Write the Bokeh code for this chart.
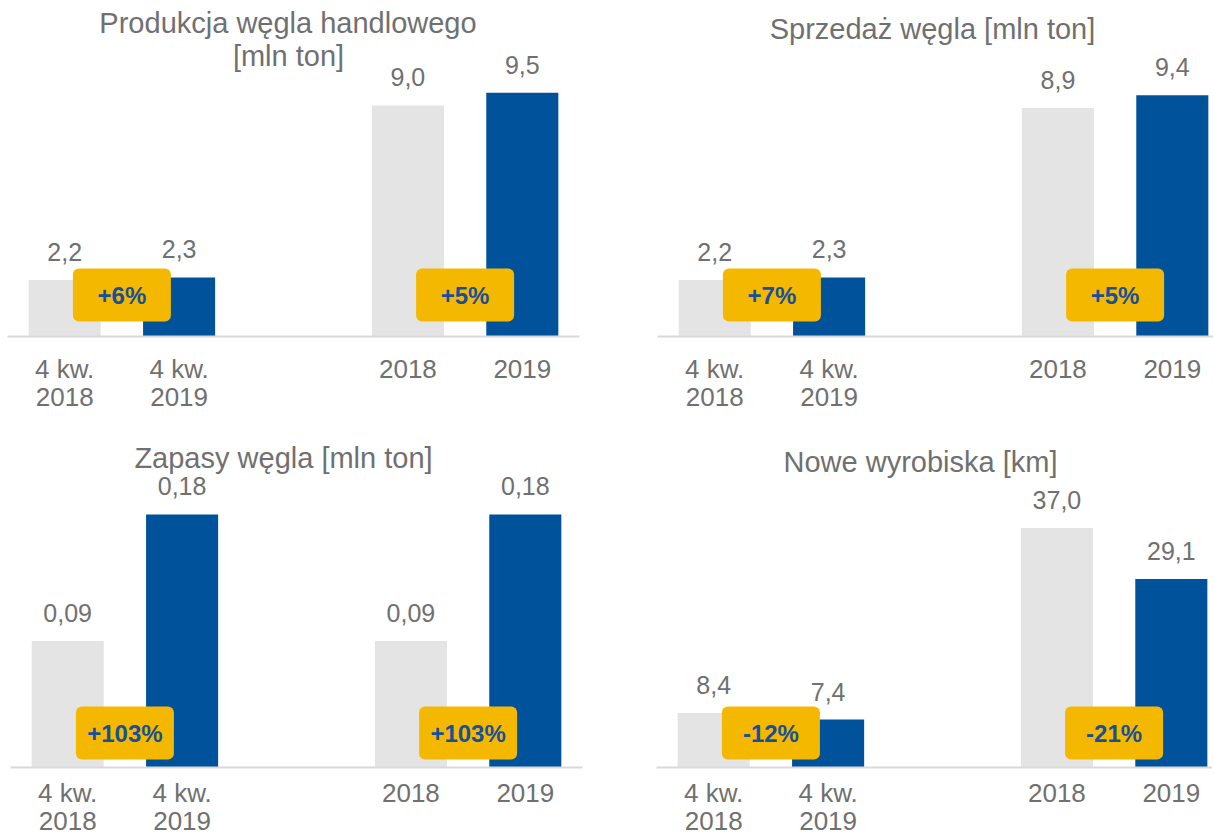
from bokeh.plotting import figure
from bokeh.layouts import column, row
from bokeh.models import Range1d, FixedTicker, Label, ColumnDataSource
from bokeh.core.properties import value
from bokeh.embed import file_html
from bokeh.resources import INLINE

# ---------------- data ----------------
categories = ["4 kw.\n2018", "4 kw.\n2019", "2018", "2019"]
production = [2.2, 2.3, 9.0, 9.5]
sales = [2.2, 2.3, 8.9, 9.4]
stocks = [0.09, 0.18, 0.09, 0.18]
excavations = [8.4, 7.4, 37.0, 29.1]
production_change = ["+6%", "+5%"]
sales_change = ["+7%", "+5%"]
stocks_change = ["+103%", "+103%"]
excavations_change = ["-12%", "-21%"]
title_production = ["Produkcja węgla handlowego", "[mln ton]"]
title_sales = ["Sprzedaż węgla [mln ton]"]
title_stocks = ["Zapasy węgla [mln ton]"]
title_excavations = ["Nowe wyrobiska [km]"]

# ---------------- style ----------------
FONT = "Liberation Sans"
GRAY_TXT = "#707070"
BAR_COLORS = ["#E4E4E4", "#00529B", "#E4E4E4", "#00529B"]
BADGE_FILL = "#F5B800"
BADGE_TXT = "#17509A"
AXIS_COL = "#D9D9D9"

# x slot positions: a gap slot between the quarter pair and the year pair
xs = [i + (1 if i >= 2 else 0) for i in range(len(categories))]
pairs = [(xs[0] + xs[1]) / 2, (xs[2] + xs[3]) / 2]


def panel(values, decimals, changes, title_lines, title_pos, y_end,
          frame_w, frame_h, border_left, border_right, x_end, standoff,
          badge_px):
    p = figure(frame_width=frame_w, frame_height=frame_h, title=None,
               x_range=Range1d(-0.5, x_end), y_range=Range1d(0, y_end),
               toolbar_location=None, output_backend="svg",
               y_axis_location=None, min_border=0,
               min_border_left=border_left, min_border_right=border_right,
               min_border_top=0, min_border_bottom=0,
               outline_line_color=None, background_fill_color="white",
               border_fill_color="white")
    p.xgrid.visible = False
    p.ygrid.visible = False

    ax = p.xaxis[0]
    ax.ticker = FixedTicker(ticks=xs)
    ax.major_label_overrides = {x: c for x, c in zip(xs, categories)}
    ax.major_tick_line_color = None
    ax.minor_tick_line_color = None
    ax.major_tick_out = 0
    ax.major_tick_in = 0
    ax.axis_line_color = AXIS_COL
    ax.axis_line_width = 2
    ax.major_label_text_font = FONT
    ax.major_label_text_font_size = "26px"
    ax.major_label_text_color = GRAY_TXT
    ax.major_label_text_line_height = 0.96
    ax.major_label_standoff = standoff

    labels = [f"{v:.{decimals}f}".replace(".", ",") for v in values]
    src = ColumnDataSource(dict(x=xs, top=values, color=BAR_COLORS, label=labels))
    p.vbar(x="x", top="top", width=0.63, bottom=0, fill_color="color",
           line_color=None, source=src)
    p.text(x="x", y="top", text="label", source=src, text_align="center",
           text_baseline="alphabetic", y_offset=-28,
           text_font=value(FONT), text_font_size=value("25px"),
           text_color=GRAY_TXT)

    by = badge_px * y_end / frame_h
    bsrc = ColumnDataSource(dict(x=pairs, y=[by, by], t=changes))
    p.rect(x="x", y="y", width=98, height=53, width_units="screen",
           height_units="screen", fill_color=BADGE_FILL, line_color=None,
           border_radius=6, source=bsrc)
    p.text(x="x", y="y", text="t", source=bsrc, text_align="center",
           text_baseline="middle", text_font=value(FONT),
           text_font_size=value("24px"), text_font_style="bold",
           text_color=BADGE_TXT)

    for line, (tx, ty) in zip(title_lines, title_pos):
        p.add_layout(Label(x=tx, y=ty, x_units="screen", y_units="screen",
                           text=line, text_align="center",
                           text_baseline="alphabetic", text_font=FONT,
                           text_font_size="29px", text_color=GRAY_TXT))
    return p


F1 = 336
F2 = 352

p1 = panel(production, 1, production_change, title_production,
           [(280.5, 314), (281, 281)], 13.09, 572, F1, 7, 28, 4.5, 17, 41.5)
p2 = panel(sales, 1, sales_change, title_sales,
           [(275, 308)], 13.09, 556, F1, 50, 0, 4.36, 17, 41.5)
p3 = panel(stocks, 2, stocks_change, title_stocks,
           [(273, 310)], 0.2504, 572, F2, 10, 25, 4.5, 10, 34.5)
p4 = panel(excavations, 1, excavations_change, title_excavations,
           [(264, 306)], 54.36, 556, F2, 49, 0, 4.36, 10, 34.5)

layout = column(row(p1, p2), row(p3, p4))
open("out.html", "w").write(file_html(layout, INLINE))
